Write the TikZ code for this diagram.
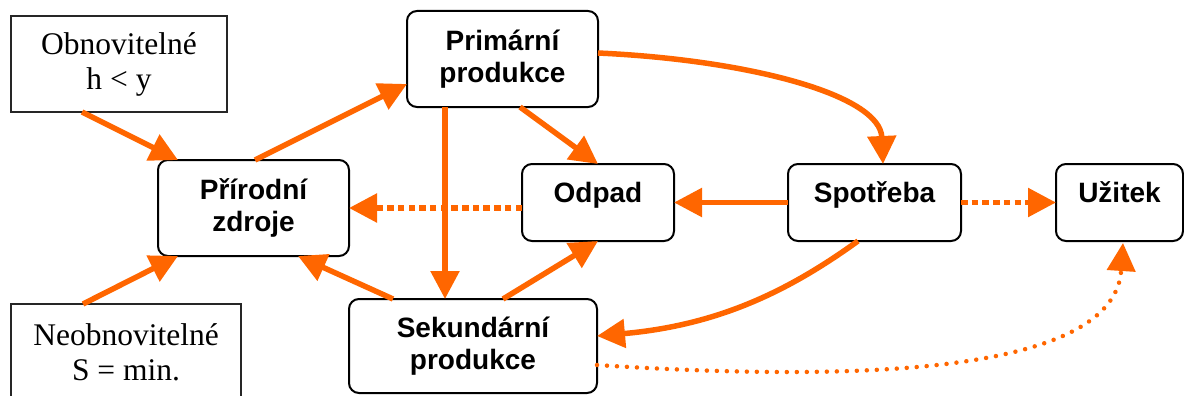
\documentclass[tikz,border=0pt]{standalone}
\usepackage{fontspec}
\setmainfont{Liberation Serif}
\newfontfamily\arialfont{Liberation Sans}
\usetikzlibrary{arrows.meta,calc}
\definecolor{flowor}{HTML}{FF6600}
\tikzset{
  sbox/.style={draw=black!85, line width=2pt, inner sep=0pt, outer sep=0pt,
    align=center, font=\fontsize{31.5}{35}\selectfont},
  rbox/.style={draw=black, line width=2pt, rounded corners=10pt, inner sep=0pt,
    outer sep=0pt, align=center, font=\arialfont\bfseries\fontsize{28}{32}\selectfont},
  onebox/.style={rbox, text height=14pt, text depth=14pt},
  flow/.style={draw=flowor, line width=5.5pt, -{Triangle[length=28pt,width=28pt]}},
  flowdash/.style={flow, dash pattern=on 6.5pt off 4.2pt},
  flowdot/.style={flow, line width=4.5pt, line cap=round, dash pattern=on 0pt off 10pt},
}
\begin{document}
\begin{tikzpicture}[x=1pt, y=-1pt]
    \useasboundingbox (0,0) rectangle (1184,396);
    \clip (0,0) rectangle (1184,396);

    % zdroje
    \node[sbox, minimum width=216pt, minimum height=96pt] (obnov) at (119,64) {Obnovitelné\\h < y};
    \node[sbox, minimum width=230pt, minimum height=97pt] (neobnov) at (126,352.5) {Neobnovitelné\\S = min.};

    \node[rbox, minimum width=191pt, minimum height=96pt] (priroda) at (253.5,208) {Přírodní\\zdroje};
    \node[rbox, minimum width=191pt, minimum height=96pt] (primar) at (502.5,59) {Primární\\produkce};
    \node[rbox, minimum width=248pt, minimum height=94pt] (sekund) at (473,346) {Sekundární\\produkce};

    \node[onebox, minimum width=152pt, minimum height=77pt] (odpad) at (598,202.5) {Odpad};
    \node[onebox, minimum width=173pt, minimum height=77pt] (spotreba) at (874.5,202.5) {Spotřeba};
    \node[onebox, minimum width=127pt, minimum height=77pt] (uzitek) at (1119.5,202.5) {Užitek};

    % toky
    \draw[flow] ($(obnov.south west)+(71,0)$) -- ($(priroda.north west)+(20,0)$);
    \draw[flow] ($(neobnov.north west)+(72,0)$) -- ($(priroda.south west)+(20,0)$);
    \draw[flow] ($(priroda.north west)+(97,0)$) -- ($(primar.west)+(0,25)$);
    \draw[flow] ($(sekund.north west)+(44,0)$) -- ($(priroda.south east)+(-51,0)$);
    \draw[flowdash] ($(odpad.west)+(0,5.5)$) -- (priroda.east);

    \draw[flow] ($(primar.south west)+(38,0)$) -- ($(sekund.north west)+(96,0)$);
    \draw[flow] ($(primar.south)+(17.5,0)$) -- (odpad.north);
    \draw[flow] ($(sekund.north)+(30,0)$) -- (odpad.south);

    \draw[flow] (spotreba.west) -- (odpad.east);
    \draw[flowdash] (spotreba.east) -- (uzitek.west);

    \draw[flow] ($(primar.east)+(0,-6)$) .. controls +(152,7) and +(-3,-69) .. ($(spotreba.north)+(8.5,0)$);
    \draw[flow] ($(spotreba.south)+(-16.5,0)$) .. controls +(-68,49) and +(123,-11) .. ($(sekund.east)+(0,-10)$);
    \draw[flowdot] ($(sekund.east)+(0,19)$) .. controls +(303,20) and +(-8,122) .. ($(uzitek.south)+(3.5,2)$);
\end{tikzpicture}
\end{document}
